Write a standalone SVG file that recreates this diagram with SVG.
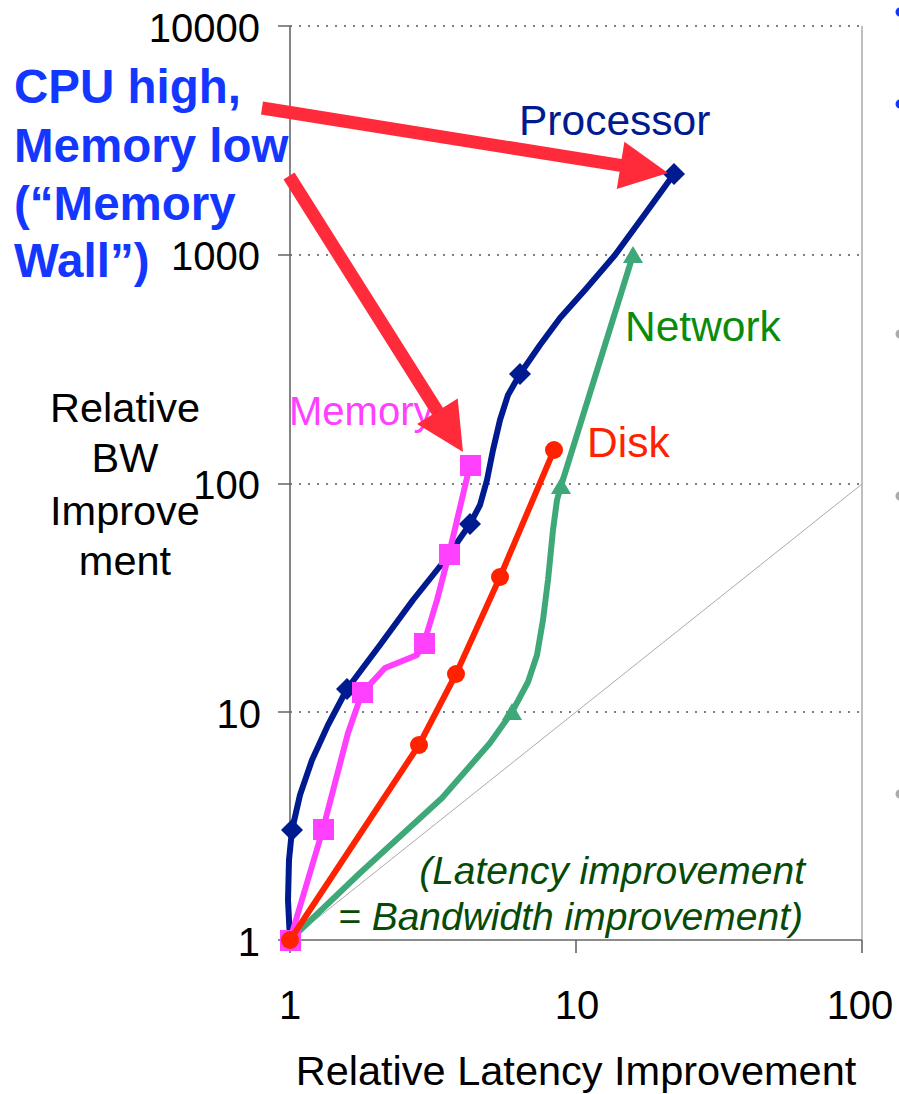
<svg xmlns="http://www.w3.org/2000/svg" width="899" height="1094" viewBox="0 0 899 1094">
<style>
.ax{font-family:"Liberation Sans",Arial,sans-serif;font-size:40px;fill:#000}
.lab{font-family:"Liberation Sans",Arial,sans-serif;font-size:41.5px;fill:#000}
.big{font-family:"Liberation Sans",Arial,sans-serif;font-size:47.5px;font-weight:bold;fill:#1437ff}
.ser{font-family:"Liberation Sans",Arial,sans-serif;font-size:42.5px}
.note{font-family:"Liberation Sans",Arial,sans-serif;font-size:39px;font-style:italic;fill:#064a06}
.grid{stroke:#555;stroke-width:1.5;stroke-dasharray:2 7;fill:none}
.axis{stroke:#666;stroke-width:1.6;fill:none}
.curve{fill:none;stroke-width:6;stroke-linejoin:round;stroke-linecap:round}
.arrow{fill:#ff2a3a}
</style>
<rect width="899" height="1094" fill="#fff"/>
<g id="plot-frame">
<line class="grid" x1="290" y1="26" x2="862" y2="26"/>
<line class="grid" x1="290" y1="255" x2="862" y2="255"/>
<line class="grid" x1="290" y1="484" x2="862" y2="484"/>
<line class="grid" x1="290" y1="712" x2="862" y2="712"/>
<line x1="862" y1="26" x2="862" y2="940" stroke="#aaa" stroke-width="1.5"/>
<line class="axis" x1="290" y1="26" x2="290" y2="940"/>
<line class="axis" x1="290" y1="940" x2="862" y2="940"/>
<path class="axis" d="M278 26H290M278 255H290M278 484H290M278 712H290M278 940H290M290 940V953M576 940V953M862 940V953"/>
<line x1="290" y1="940" x2="862" y2="484" stroke="#aaa" stroke-width="1"/>
</g>
<g id="axis-labels">
<text class="ax" x="260" y="42" text-anchor="end">10000</text>
<text class="ax" x="260" y="270" text-anchor="end">1000</text>
<text class="ax" x="260" y="499" text-anchor="end">100</text>
<text class="ax" x="261" y="728" text-anchor="end">10</text>
<text class="ax" x="260" y="956" text-anchor="end">1</text>
<text class="ax" x="290" y="1019" text-anchor="middle">1</text>
<text class="ax" x="577" y="1019" text-anchor="middle">10</text>
<text class="ax" x="860" y="1019" text-anchor="middle">100</text>
<text class="lab" x="576" y="1085" text-anchor="middle">Relative Latency Improvement</text>
<text class="lab" x="125" y="422" text-anchor="middle">Relative</text>
<text class="lab" x="125" y="472" text-anchor="middle">BW</text>
<text class="lab" x="125" y="525" text-anchor="middle">Improve</text>
<text class="lab" x="125" y="575" text-anchor="middle">ment</text>
</g>
<g id="series-network">
<polyline class="curve" stroke="#3fa878" points="290,940 360,873 442,798 490,743 512,712 528,682 537,655 543,620 548,580 553,530 557,500 561,486 633,255"/>
<g fill="#3fa878">
<polygon points="290,931 280,948 300,948"/>
<polygon points="512,703 502,720 522,720"/>
<polygon points="561,477 551,494 571,494"/>
<polygon points="633,246 623,263 643,263"/>
</g>
<text class="ser" x="625" y="341" fill="#0a8c0a">Network</text>
</g>
<g id="series-processor">
<polyline class="curve" stroke="#001a8f" points="290,940 288,900 289,860 292,830 300,795 312,760 328,725 347,689 380,645 413,600 445,560 470,524 480,505 487,480 493,450 500,420 508,395 520,374 540,345 560,318 585,290 615,255 645,214 674,174"/>
<g fill="#001a8f">
<polygon points="292,819 303,830 292,841 281,830"/>
<polygon points="347,678 358,689 347,700 336,689"/>
<polygon points="470,513 481,524 470,535 459,524"/>
<polygon points="520,363 531,374 520,385 509,374"/>
<polygon points="674,163 685,174 674,185 663,174"/>
</g>
<text class="ser" x="519" y="135" fill="#001a8f">Processor</text>
</g>
<g id="series-memory">
<polyline class="curve" stroke="#ff40ff" points="290,940 323,829 348,733 362,693 385,668 417,655 424,643 437,600 449,554 470,465"/>
<g fill="#ff40ff">
<rect x="280" y="930" width="21" height="21"/>
<rect x="313" y="819" width="21" height="21"/>
<rect x="352" y="682" width="21" height="21"/>
<rect x="414" y="633" width="21" height="21"/>
<rect x="439" y="544" width="21" height="21"/>
<rect x="460" y="455" width="21" height="21"/>
</g>
<text class="ser" x="289" y="425" fill="#ff40ff" style="font-size:40px">Memory</text>
</g>
<g id="series-disk">
<polyline class="curve" stroke="#ff2200" points="290,940 419,745 456,674 500,577 554,450"/>
<g fill="#ff2200">
<circle cx="290" cy="940" r="9"/>
<circle cx="419" cy="745" r="9"/>
<circle cx="456" cy="674" r="9"/>
<circle cx="500" cy="577" r="9"/>
<circle cx="554" cy="450" r="9"/>
</g>
<text class="ser" x="587" y="457" fill="#ff2200">Disk</text>
</g>
<g id="note">
<text class="note" x="805" y="884" text-anchor="end">(Latency improvement</text>
<text class="note" x="803" y="930" text-anchor="end">= Bandwidth improvement)</text>
</g>
<g id="callout">
<text class="big" x="14" y="103">CPU high,</text>
<text class="big" x="14" y="162">Memory low</text>
<text class="big" x="14" y="220">(“Memory</text>
<text class="big" x="14" y="277">Wall”)</text>
</g>
<g id="connectors">
<polygon class="arrow" points="263,101.6 621.6,159 624.4,141.7 668,173 616.8,189.1 619.6,171.8 261,114.4"/>
<polygon class="arrow" points="294.5,172.5 442.9,407.8 457.7,398.5 463,452 417.1,424.1 431.9,414.8 283.5,179.5"/>
</g>
<g id="edge-bullets">
<circle cx="900" cy="12" r="4.5" fill="#1437ff"/>
<circle cx="900" cy="104" r="4.5" fill="#1437ff"/>
<circle cx="900" cy="334" r="4.5" fill="#aaa"/>
<circle cx="900" cy="496" r="4.5" fill="#aaa"/>
<circle cx="900" cy="794" r="4.5" fill="#aaa"/>
</g>
</svg>
